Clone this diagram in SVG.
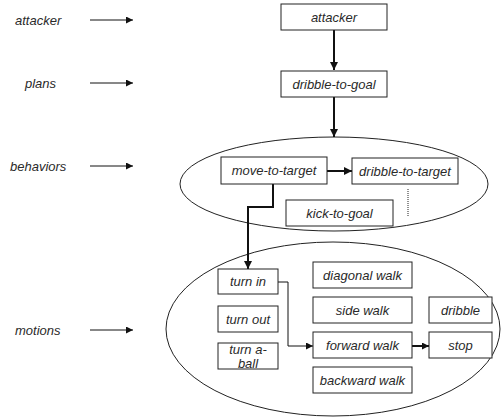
<svg xmlns="http://www.w3.org/2000/svg" width="503" height="417" viewBox="0 0 503 417">
<defs>
<marker id="ahb" viewBox="0 0 10 10" refX="10" refY="5" markerWidth="12" markerHeight="8" orient="auto" markerUnits="userSpaceOnUse">
<path d="M0,0 L10,5 L0,10 z" fill="#111"/>
</marker>
<marker id="ahs" viewBox="0 0 10 10" refX="10" refY="5" markerWidth="11" markerHeight="7" orient="auto" markerUnits="userSpaceOnUse">
<path d="M0,0 L10,5 L0,10 z" fill="#111"/>
</marker>
</defs>
<style>
text{font-family:"Liberation Sans",Arial,sans-serif;font-style:italic;font-size:13px;fill:#2a2a2a;text-anchor:middle;dominant-baseline:central}
.lbl{text-anchor:start}
.box{fill:#fff;stroke:#222;stroke-width:1}
.ell{fill:none;stroke:#222;stroke-width:1}
.thick{fill:none;stroke:#111;stroke-width:2}
.thin{fill:none;stroke:#111;stroke-width:1}
</style>
<rect width="503" height="417" fill="#fff"/>
<g id="levels">
<text class="lbl" x="15" y="20">attacker</text>
<text class="lbl" x="25" y="83">plans</text>
<text class="lbl" x="10" y="166">behaviors</text>
<text class="lbl" x="15" y="330">motions</text>
</g>
<g id="ellipses">
<ellipse id="behaviors-ellipse" class="ell" cx="334" cy="184" rx="154" ry="47"/>
<ellipse id="motions-ellipse" class="ell" cx="333" cy="329" rx="167" ry="87"/>
</g>
<g id="connectors">
<line class="thin" x1="90" y1="20" x2="133" y2="20" marker-end="url(#ahs)"/>
<line class="thin" x1="90" y1="83" x2="133" y2="83" marker-end="url(#ahs)"/>
<line class="thin" x1="90" y1="166" x2="133" y2="166" marker-end="url(#ahs)"/>
<line class="thin" x1="90" y1="330" x2="133" y2="330" marker-end="url(#ahs)"/>
<line class="thick" x1="334" y1="30" x2="334" y2="70" marker-end="url(#ahb)"/>
<line class="thick" x1="334" y1="97" x2="334" y2="137" marker-end="url(#ahb)"/>
<line class="thick" x1="327" y1="171" x2="352" y2="171" marker-end="url(#ahb)"/>
<polyline class="thick" points="273,184 273,207 248,207 248,269" marker-end="url(#ahb)"/>
<polyline class="thin" points="278,282 288,282 288,346 313,346" marker-end="url(#ahs)"/>
<line class="thick" x1="412" y1="346" x2="429" y2="346" stroke-width="1.5" marker-end="url(#ahs)"/>
<line x1="408" y1="189" x2="408" y2="216" stroke="#222" stroke-width="1" stroke-dasharray="1,1"/>
</g>
<g id="attacker"><rect class="box" x="281" y="4" width="106" height="26"/><text x="334" y="17">attacker</text></g>
<g id="dribble-to-goal"><rect class="box" x="281" y="71" width="106" height="26"/><text x="334" y="84">dribble-to-goal</text></g>
<g id="move-to-target"><rect class="box" x="221" y="157" width="106" height="27"/><text x="274" y="170.5">move-to-target</text></g>
<g id="dribble-to-target"><rect class="box" x="352" y="158" width="106" height="26"/><text x="405" y="171">dribble-to-target</text></g>
<g id="kick-to-goal"><rect class="box" x="286" y="200" width="107" height="26"/><text x="339.5" y="213">kick-to-goal</text></g>
<g id="turn-in"><rect class="box" x="218" y="269" width="60" height="25"/><text x="248" y="281.5">turn in</text></g>
<g id="turn-out"><rect class="box" x="218" y="306" width="60" height="26"/><text x="248" y="319">turn out</text></g>
<g id="turn-a-ball"><rect class="box" x="218" y="343" width="60" height="26"/><text x="248" y="349">turn a-</text><text x="248" y="363">ball</text></g>
<g id="diagonal-walk"><rect class="box" x="313" y="262" width="99" height="26"/><text x="362.5" y="275">diagonal walk</text></g>
<g id="side-walk"><rect class="box" x="313" y="297" width="99" height="26"/><text x="362.5" y="310">side walk</text></g>
<g id="forward-walk"><rect class="box" x="313" y="332" width="99" height="26"/><text x="362.5" y="345">forward walk</text></g>
<g id="backward-walk"><rect class="box" x="313" y="367" width="99" height="26"/><text x="362.5" y="380">backward walk</text></g>
<g id="dribble"><rect class="box" x="429" y="297" width="63" height="26"/><text x="460.5" y="310">dribble</text></g>
<g id="stop"><rect class="box" x="429" y="332" width="63" height="26"/><text x="460.5" y="345">stop</text></g>
</svg>
